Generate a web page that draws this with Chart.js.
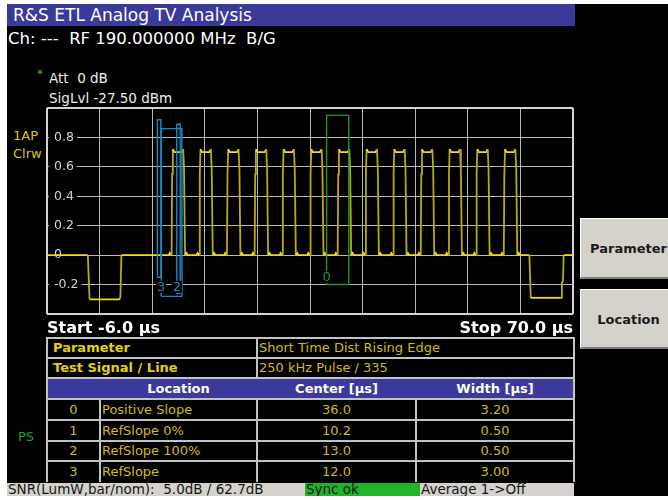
<!DOCTYPE html>
<html>
<head>
<meta charset="utf-8">
<title>R&amp;S ETL Analog TV Analysis</title>
<script src="https://cdn.jsdelivr.net/npm/chart.js@4.4.1/dist/chart.umd.min.js"></script>
<style>
html,body{margin:0;padding:0;background:#fff;}
body{position:relative;width:668px;height:500px;overflow:hidden;font-family:"DejaVu Sans",Verdana,sans-serif;}
.a{position:absolute;white-space:pre;box-sizing:border-box;}
#panel{left:7px;top:4px;width:661px;height:492px;background:#000;}
#title{left:7px;top:4px;width:568px;height:22px;padding-left:6px;background:#3b3a9b;color:#fff;font-size:17px;line-height:22px;}
#ch{left:8px;top:29px;color:#fff;font-size:16.5px;line-height:20px;}
#star{left:37px;top:68px;color:#2fb04a;font-size:12px;line-height:12px;}
#att{left:49px;top:70px;color:#eee;font-size:13.5px;line-height:16px;}
#sig{left:49px;top:90px;color:#eee;font-size:13.5px;line-height:16px;}
#ap{left:13px;top:128px;color:#d8c81c;font-size:13px;line-height:16px;}
#clrw{left:13px;top:146px;color:#d8c81c;font-size:13px;line-height:16px;}
#ps{left:18px;top:429px;color:#1f9f3f;font-size:13px;line-height:16px;}
.btn{left:580px;width:96px;background:#d5d2cb;border-top:1px solid #fff;border-left:1px solid #fff;border-bottom:2px solid #7c7c7c;color:#1b1b1b;font-weight:bold;font-size:13px;text-align:center;}
#b1{top:218px;height:61px;line-height:60px;}
#b2{top:289px;height:60px;line-height:60px;}
.st{top:483px;height:13px;line-height:13px;font-size:13.5px;color:#151515;padding-left:1px;overflow:hidden;}
#s1{left:7px;width:298px;background:#d5d2cb;}
#s2{left:305px;width:115px;background:#1fb32a;}
#s3{left:420px;width:154px;background:#d5d2cb;}
#c{position:absolute;left:0;top:0;z-index:5;}
</style>
</head>
<body>
<div class="a" id="panel"></div>
<div class="a" id="title">R&amp;S ETL Analog TV Analysis</div>
<div class="a" id="ch">Ch: ---  RF 190.000000 MHz  B/G</div>
<div class="a" id="star">*</div>
<div class="a" id="att">Att  0 dB</div>
<div class="a" id="sig">SigLvl -27.50 dBm</div>
<div class="a" id="ap">1AP</div>
<div class="a" id="clrw">Clrw</div>
<div class="a" id="ps">PS</div>
<div class="a btn" id="b1">Parameter</div>
<div class="a btn" id="b2">Location</div>
<div class="a st" id="s1">SNR(LumW,bar/nom):  5.0dB / 62.7dB</div>
<div class="a st" id="s2">Sync ok</div>
<div class="a st" id="s3">Average 1-&gt;Off</div>
<canvas id="c" width="668" height="500"></canvas>
<script>
// ---- axis data ----
const xStart = -6.0;
const xStop = 70.0;
const xGridTicks = [-6, 1.6, 9.2, 16.8, 24.4, 32, 39.6, 47.2, 54.8, 62.4, 70];
const yMin = -0.4;
const yMax = 1.0;
const yTicks = [-0.4, -0.2, 0, 0.2, 0.4, 0.6, 0.8, 1.0];

// ---- trace (time in µs, level) ----
const trace = [
  [-6.0,0],[-0.1,0],[0.15,-0.30],[4.4,-0.30],[4.6,-0.29],[4.75,0],
  [11.6,0],[11.75,0.015],[12.0,0],[12.08,0.55],[12.18,0.72],[12.4,0.70],[13.45,0.70],[13.68,0.72],[13.8,0.58],[13.95,0],[14.15,0.015],[14.35,0],
  [15.6,0],[15.75,0.015],[16.0,0],[16.08,0.55],[16.18,0.72],[16.4,0.70],[17.45,0.70],[17.68,0.72],[17.8,0.58],[17.95,0],[18.15,0.015],[18.35,0],
  [19.6,0],[19.75,0.015],[20.0,0],[20.08,0.55],[20.18,0.72],[20.4,0.70],[21.45,0.70],[21.68,0.72],[21.8,0.58],[21.95,0],[22.15,0.015],[22.35,0],
  [23.6,0],[23.75,0.015],[24.0,0],[24.08,0.55],[24.18,0.72],[24.4,0.70],[25.45,0.70],[25.68,0.72],[25.8,0.58],[25.95,0],[26.15,0.015],[26.35,0],
  [27.6,0],[27.75,0.015],[28.0,0],[28.08,0.55],[28.18,0.72],[28.4,0.70],[29.45,0.70],[29.68,0.72],[29.8,0.58],[29.95,0],[30.15,0.015],[30.35,0],
  [31.6,0],[31.75,0.015],[32.0,0],[32.08,0.55],[32.18,0.72],[32.4,0.70],[33.45,0.70],[33.68,0.72],[33.8,0.58],[33.95,0],[34.15,0.015],[34.35,0],
  [35.6,0],[35.75,0.015],[36.0,0],[36.08,0.55],[36.18,0.72],[36.4,0.70],[37.45,0.70],[37.68,0.72],[37.8,0.58],[37.95,0],[38.15,0.015],[38.35,0],
  [39.6,0],[39.75,0.015],[40.0,0],[40.08,0.55],[40.18,0.72],[40.4,0.70],[41.45,0.70],[41.68,0.72],[41.8,0.58],[41.95,0],[42.15,0.015],[42.35,0],
  [43.6,0],[43.75,0.015],[44.0,0],[44.08,0.55],[44.18,0.72],[44.4,0.70],[45.45,0.70],[45.68,0.72],[45.8,0.58],[45.95,0],[46.15,0.015],[46.35,0],
  [47.6,0],[47.75,0.015],[48.0,0],[48.08,0.55],[48.18,0.72],[48.4,0.70],[49.45,0.70],[49.68,0.72],[49.8,0.58],[49.95,0],[50.15,0.015],[50.35,0],
  [51.6,0],[51.75,0.015],[52.0,0],[52.08,0.55],[52.18,0.72],[52.4,0.70],[53.45,0.70],[53.68,0.72],[53.8,0.58],[53.95,0],[54.15,0.015],[54.35,0],
  [55.6,0],[55.75,0.015],[56.0,0],[56.08,0.55],[56.18,0.72],[56.4,0.70],[57.45,0.70],[57.68,0.72],[57.8,0.58],[57.95,0],[58.15,0.015],[58.35,0],
  [59.6,0],[59.75,0.015],[60.0,0],[60.08,0.55],[60.18,0.72],[60.4,0.70],[61.45,0.70],[61.68,0.72],[61.8,0.58],[61.95,0],[62.15,0.015],[62.35,0],
  [63.7,0],[63.9,-0.29],[68.3,-0.29],[68.4,-0.18],[68.55,-0.18],[68.65,0],[70.0,0]
];

// ---- measurement table ----
const paramLabels = ['Parameter', 'Test Signal / Line'];
const paramValues = ['Short Time Dist Rising Edge', '250 kHz Pulse / 335'];
const headerLabels = ['Location', 'Center [µs]', 'Width [µs]'];
const locIndex = [0, 1, 2, 3];
const locNames = ['Positive Slope', 'RefSlope 0%', 'RefSlope 100%', 'RefSlope'];
const locCenter = [36.0, 10.2, 13.0, 12.0];
const locWidth = [3.20, 0.50, 0.50, 3.00];
// marker box extents (level units) and label level
const markerTop = [0.95, 0.92, 0.89, 0.86];
const markerBottom = [-0.20, -0.15, -0.26, -0.28];
const markerLabelLevel = [-0.148, null, -0.215, -0.215];

// ---- build table (HTML) ----
const YELLOW_B = '#e4d10e', YELLOW = '#cfbb12';
function box(x, y, w, h, style) {
  const d = document.createElement('div');
  d.className = 'a';
  d.style.cssText = `left:${x}px;top:${y}px;width:${w}px;height:${h}px;` + style;
  document.body.insertBefore(d, document.getElementById('c'));
  return d;
}
function txt(x0, x1, y0, y1, text, align, style) {
  const d = box(x0, y0, x1 - x0, y1 - y0, `line-height:${y1 - y0}px;text-align:${align};font-size:13px;` + style);
  d.textContent = text;
  return d;
}
const R = [338, 358, 378, 399, 420, 441, 461, 482];
const C = [47, 100, 257, 416, 574];
box(C[0], R[2], C[4] - C[0], R[3] - R[2], 'background:#3b3a9b;');
const LINE = 'background:#c2c2c2;';
for (let i = 0; i < 7; i++) box(C[0] - 1, R[i] - 1, C[4] - C[0] + 2, 2, LINE);
box(C[0] - 1, R[0], 2, R[7] - R[0], LINE);
box(C[4] - 1, R[0], 2, R[7] - R[0], LINE);
box(C[2] - 1, R[0], 2, R[2] - R[0], LINE);
[C[1], C[2], C[3]].forEach(x => box(x - 1, R[3], 2, R[7] - R[3], LINE));
paramLabels.forEach((s, i) => {
  txt(C[0], C[2], R[i], R[i + 1], s, 'left', `font-weight:bold;color:${YELLOW_B};padding-left:6px;`);
  txt(C[2], C[4], R[i], R[i + 1], paramValues[i], 'left', `color:${YELLOW};padding-left:2px;`);
});
txt(C[1], C[2], R[2], R[3], headerLabels[0], 'center', 'font-weight:bold;color:#fff;');
txt(C[2], C[3], R[2], R[3], headerLabels[1], 'center', 'font-weight:bold;color:#fff;');
txt(C[3], C[4], R[2], R[3], headerLabels[2], 'center', 'font-weight:bold;color:#fff;');
locIndex.forEach((k, j) => {
  const y0 = R[3 + j], y1 = R[4 + j];
  txt(C[0], C[1], y0, y1, String(k), 'center', `color:${YELLOW};`);
  txt(C[1], C[2], y0, y1, locNames[j], 'left', `color:${YELLOW};padding-left:2px;`);
  txt(C[2], C[3], y0, y1, locCenter[j].toFixed(1), 'center', `color:${YELLOW};`);
  txt(C[3], C[4], y0, y1, locWidth[j].toFixed(2), 'center', `color:${YELLOW};`);
});

// ---- chart ----
Chart.defaults.font.family = '"DejaVu Sans", Verdana, sans-serif';
const markerColors = ['#169a32', '#1c88c0', '#1c88c0', '#1c88c0'];
const markerSets = locIndex.map((k, i) => {
  const L = locCenter[i] - locWidth[i] / 2, Rr = locCenter[i] + locWidth[i] / 2;
  return {
    data: [{x: L, y: markerBottom[i]}, {x: L, y: markerTop[i]}, {x: Rr, y: markerTop[i]}, {x: Rr, y: markerBottom[i]}, {x: L, y: markerBottom[i]}],
    borderColor: markerColors[i], borderWidth: 1.4, pointRadius: 0, tension: 0, fill: false
  };
});
const traceSet = {
  data: trace.map(p => ({x: p[0], y: p[1]})),
  borderColor: '#ecd81c', borderWidth: 1.8, pointRadius: 0, tension: 0, fill: false,
  segment: {
    borderColor: c => Math.abs(c.p1.parsed.y - c.p0.parsed.y) > 0.1 ? '#bba914' : '#f0dc1e'
  }
};

const markerLabels = {
  id: 'markerLabels',
  afterDatasetsDraw(chart) {
    const {ctx, scales: {x, y}} = chart;
    ctx.save();
    ctx.font = '13px "DejaVu Sans", Verdana, sans-serif';
    ctx.textAlign = 'center';
    ctx.textBaseline = 'middle';
    locIndex.forEach((k, i) => {
      if (markerLabelLevel[i] === null) return;
      const px = x.getPixelForValue(locCenter[i] - locWidth[i] / 2);
      const py = y.getPixelForValue(markerLabelLevel[i]);
      const w = ctx.measureText(String(k)).width;
      ctx.fillStyle = '#000';
      ctx.fillRect(px - w / 2 - 1, py - 6, w + 2, 12);
      ctx.fillStyle = markerColors[i];
      ctx.fillText(String(k), px, py + 0.5);
    });
    ctx.restore();
  }
};

const edgeGrid = (c, n) => (c.index === 0 || c.index === n - 1);
new Chart(document.getElementById('c'), {
  type: 'line',
  data: {datasets: [...markerSets, traceSet]},
  options: {
    responsive: false,
    animation: false,
    devicePixelRatio: 1,
    layout: {padding: {left: 47, top: 108, right: 95, bottom: 160}},
    plugins: {legend: {display: false}, tooltip: {enabled: false}},
    scales: {
      x: {
        type: 'linear', min: xStart, max: xStop,
        afterBuildTicks: s => { s.ticks = xGridTicks.map(v => ({value: v})); },
        afterFit: s => { s.height = 26; },
        grid: {
          drawTicks: false,
          color: c => edgeGrid(c, xGridTicks.length) ? '#d4d4d4' : '#b9b9b9',
          lineWidth: c => edgeGrid(c, xGridTicks.length) ? 2 : 1
        },
        border: {display: false},
        ticks: {
          autoSkip: false, maxRotation: 0, minRotation: 0, align: 'inner', padding: 5,
          color: '#fff', font: {size: 16, weight: 'bold'},
          callback: (v, i, t) => i === 0 ? 'Start ' + xStart.toFixed(1) + ' µs'
                              : (i === t.length - 1 ? 'Stop ' + xStop.toFixed(1) + ' µs' : '')
        }
      },
      y: {
        type: 'linear', min: yMin, max: yMax,
        afterBuildTicks: s => { s.ticks = yTicks.map(v => ({value: v})); },
        afterFit: s => { s.width = 0; },
        grid: {
          drawTicks: false,
          color: c => edgeGrid(c, yTicks.length) ? '#d4d4d4' : '#b9b9b9',
          lineWidth: c => edgeGrid(c, yTicks.length) ? 2 : 1
        },
        border: {display: false},
        ticks: {
          mirror: true, padding: 7, color: '#d2d2d2', font: {size: 12.5},
          showLabelBackdrop: c => c.index > 0 && c.index < yTicks.length - 1,
          backdropColor: '#000',
          backdropPadding: {left: 5, right: 3, top: 0, bottom: 0},
          callback: (v, i) => (i === 0 || i === yTicks.length - 1) ? '' : (v === 0 ? '0' : v.toFixed(1))
        }
      }
    }
  },
  plugins: [markerLabels]
});
</script>
</body>
</html>
